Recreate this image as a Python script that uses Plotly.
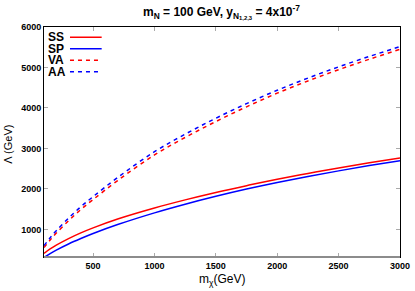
import plotly.graph_objects as go

m_chi = [100, 150, 200, 300, 400, 500, 700, 1000, 1250, 1500, 1750, 2000, 2250, 2500, 2750, 3000]
SS = [410, 519, 613, 775, 916, 1040, 1258, 1530, 1731, 1914, 2082, 2240, 2384, 2518, 2646, 2766]
SP = [310, 406, 491, 642, 776, 900, 1121, 1410, 1623, 1818, 1997, 2160, 2310, 2447, 2577, 2700]
VA = [552, 738, 910, 1213, 1492, 1738, 2208, 2841, 3273, 3665, 4029, 4367, 4667, 4946, 5204, 5449]
AA = [600, 794, 968, 1280, 1562, 1810, 2283, 2920, 3353, 3747, 4107, 4438, 4738, 5016, 5273, 5515]

x_ticks = [500, 1000, 1500, 2000, 2500, 3000]
y_ticks = [1000, 2000, 3000, 4000, 5000, 6000]

series = [("SS", SS, "#ff0000", "solid"), ("SP", SP, "#0000ff", "solid"),
          ("VA", VA, "#ff0000", "4px,4px"), ("AA", AA, "#0000ff", "4px,4px")]

fig = go.Figure()
for name, ys, col, dash in series:
    fig.add_trace(go.Scatter(x=m_chi, y=ys, mode="lines", name=name, showlegend=False,
                             line=dict(color=col, width=1.5, dash=dash, shape="spline")))

font = "Liberation Sans, Arial, sans-serif"
# custom legend: label on the left, line sample on the right (gnuplot style)
for i, (name, ys, col, dash) in enumerate(series):
    yy = 0.955 - i * 0.05
    fig.add_annotation(xref="paper", yref="paper", x=0.008, y=yy, text="<b>%s</b>" % name,
                       showarrow=False, xanchor="left", yanchor="middle", borderpad=0,
                       font=dict(family=font, size=12, color="black"))
    fig.add_shape(type="line", xref="paper", yref="paper", x0=0.073, x1=0.162, y0=yy, y1=yy,
                  line=dict(color=col, width=1.5, dash=dash))

# gray bottom border as in the reference
fig.add_shape(type="line", xref="paper", yref="paper", x0=0, x1=1, y0=0, y1=0,
              line=dict(color="#8c8c8c", width=2), layer="above")

axis_common = dict(showline=True, linecolor="black", linewidth=1, mirror="ticks",
                   ticks="inside", ticklen=4, tickcolor="#aaaaaa", showgrid=False, zeroline=False,
                   automargin=False, tickfont=dict(family=font, size=9, color="black"))

fig.add_annotation(xref="paper", yref="paper", x=0.5, y=-0.058, yanchor="top", showarrow=False,
                   text="m<sub>χ</sub>(GeV)", font=dict(family=font, size=12, color="black"))
fig.add_annotation(xref="paper", yref="paper", x=-0.1, y=0.49, xanchor="center", showarrow=False,
                   textangle=-90, text="Λ (GeV)", font=dict(family=font, size=11, color="black"))
fig.add_annotation(xref="paper", yref="paper", x=0.272, y=1.065, xanchor="left", yanchor="middle",
                   showarrow=False,
                   text="<b>m<sub>N</sub> = 100 GeV, y<sub>N<sub>1,2,3</sub></sub> = 4x10<sup>-7</sup></b>",
                   font=dict(family=font, size=12, color="black"))

fig.update_layout(
    width=415, height=291,
    margin=dict(l=44, r=15, t=27, b=34),
    paper_bgcolor="white", plot_bgcolor="white",
    xaxis=dict(range=[100, 3000], tickvals=x_ticks,
               ticktext=["<b>%d</b>" % v for v in x_ticks], **axis_common),
    yaxis=dict(range=[320, 6000], tickvals=y_ticks,
               ticktext=["<b>%d</b>" % v for v in y_ticks], **axis_common),
)

fig.write_html("out.html", config={"displayModeBar": False},
               post_script="document.body.style.margin='0';")
